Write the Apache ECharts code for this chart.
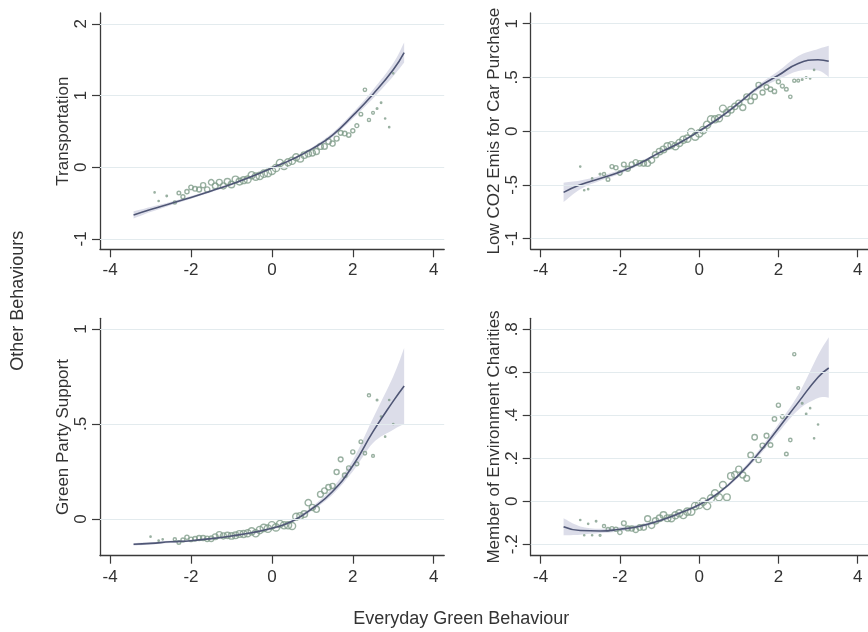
<!DOCTYPE html>
<html>
<head>
<meta charset="utf-8">
<script src="https://cdn.jsdelivr.net/npm/echarts@6/dist/echarts.min.js"></script>
<style>
  html, body { margin: 0; padding: 0; background: #ffffff; }
  #chart { width: 868px; height: 632px; }
</style>
</head>
<body>
<div id="chart"></div>
<script>
// Binned means of each outcome against the everyday green behaviour score
const binX = [-3.0,-2.9,-2.8,-2.7,-2.6,-2.5,-2.4,-2.3,-2.2,-2.1,-2.0,-1.9,-1.8,-1.7,-1.6,-1.5,-1.4,-1.3,-1.2,-1.1,
  -1.0,-0.9,-0.8,-0.7,-0.6,-0.5,-0.4,-0.3,-0.2,-0.1,0.0,0.1,0.2,0.3,0.4,0.5,0.6,0.7,0.8,0.9,
  1.0,1.1,1.2,1.3,1.4,1.5,1.6,1.7,1.8,1.9,2.0,2.1,2.2,2.3,2.4,2.5,2.6,2.7,2.8,2.9,3.0];

// Relative number of respondents in each bin (marker area)
const binWeight = [3,3,3,3,4,6,18,24,28,32,36,40,44,48,52,56,60,64,68,72,
  76,80,84,88,90,92,95,97,98,100,100,98,96,94,92,90,86,82,78,74,
  70,66,62,58,54,50,46,42,38,34,30,27,24,21,18,14,5,4,3,3,3];

const transportY = [null,-0.35,-0.47,null,-0.40,null,-0.49,-0.36,-0.41,-0.34,-0.28,-0.30,-0.31,-0.25,-0.31,-0.21,-0.26,-0.21,-0.26,-0.20,
  -0.24,-0.17,-0.20,-0.18,-0.17,-0.11,-0.13,-0.12,-0.09,-0.08,-0.05,-0.01,0.06,0.02,0.07,0.09,0.14,0.12,0.17,0.19,
  0.20,0.22,0.29,0.29,0.36,0.33,0.40,0.48,0.47,0.45,0.51,0.58,0.74,1.08,0.66,0.76,0.82,0.90,0.68,0.56,1.31];

const carY = [-0.33,-0.55,-0.54,-0.44,null,-0.40,-0.40,-0.45,-0.33,-0.34,-0.39,-0.31,-0.35,-0.31,-0.29,-0.30,-0.30,-0.30,-0.27,-0.22,
  -0.19,-0.17,-0.14,-0.13,-0.14,-0.11,-0.08,-0.07,-0.01,-0.05,-0.02,0.01,0.06,0.11,0.11,0.12,0.21,0.17,0.20,0.23,
  0.26,0.22,0.32,0.28,0.32,0.43,0.36,0.41,0.39,0.37,0.46,0.42,0.39,0.32,0.47,0.47,0.48,0.50,0.49,0.57,null];

const greenPartyY = [-0.093,null,-0.114,-0.107,null,null,-0.107,-0.123,-0.110,-0.096,-0.107,-0.104,-0.100,-0.100,-0.104,-0.104,-0.093,-0.082,-0.089,-0.086,
  -0.089,-0.086,-0.079,-0.079,-0.075,-0.065,-0.075,-0.058,-0.047,-0.051,-0.033,-0.044,-0.026,-0.033,-0.033,-0.037,0.012,0.016,0.026,0.086,
  0.061,0.051,0.130,0.149,0.167,0.174,0.247,0.314,0.230,0.268,0.353,0.290,0.407,0.346,0.651,0.332,0.626,0.539,0.433,0.626,0.500];

const charityY = [-0.087,-0.158,-0.105,-0.158,-0.093,-0.158,-0.115,-0.130,-0.127,-0.130,-0.144,-0.102,-0.126,-0.127,-0.133,-0.122,-0.121,-0.081,-0.112,-0.091,
  -0.079,-0.064,-0.079,-0.079,-0.065,-0.056,-0.064,-0.048,-0.048,-0.022,-0.017,-0.002,-0.022,0.014,0.037,0.019,0.076,0.019,0.118,0.124,
  0.149,0.122,0.107,0.215,0.298,0.192,0.259,0.305,0.262,0.383,0.447,0.394,0.220,0.285,0.684,0.527,0.456,0.406,0.433,0.293,0.357];

// Fitted curves with 95% confidence bounds
const fitX = [-3.42,-3.0,-2.5,-2.0,-1.5,-1.0,-0.5,0.0,0.5,1.0,1.5,2.0,2.5,3.0,3.27];

const transportFit = [-0.665,-0.59,-0.505,-0.42,-0.33,-0.235,-0.13,-0.01,0.11,0.26,0.45,0.72,1.02,1.36,1.60];
const transportLo  = [-0.715,-0.625,-0.53,-0.44,-0.348,-0.251,-0.145,-0.025,0.094,0.24,0.42,0.68,0.96,1.27,1.46];
const transportHi  = [-0.615,-0.555,-0.48,-0.40,-0.312,-0.219,-0.115,0.005,0.126,0.28,0.48,0.76,1.08,1.45,1.74];

const carFit = [-0.57,-0.50,-0.44,-0.38,-0.30,-0.20,-0.11,0.0,0.12,0.26,0.41,0.52,0.63,0.665,0.65];
const carLo  = [-0.66,-0.54,-0.462,-0.398,-0.315,-0.214,-0.123,-0.013,0.106,0.244,0.388,0.48,0.56,0.565,0.505];
const carHi  = [-0.48,-0.46,-0.418,-0.362,-0.285,-0.186,-0.097,0.013,0.134,0.276,0.432,0.56,0.70,0.765,0.795];

const greenPartyFit = [-0.133,-0.128,-0.12,-0.114,-0.103,-0.089,-0.072,-0.049,-0.012,0.056,0.145,0.28,0.46,0.62,0.70];
const greenPartyLo  = [-0.14,-0.134,-0.126,-0.119,-0.108,-0.094,-0.078,-0.056,-0.02,0.045,0.128,0.25,0.40,0.47,0.50];
const greenPartyHi  = [-0.126,-0.122,-0.114,-0.109,-0.098,-0.084,-0.066,-0.042,-0.004,0.067,0.165,0.31,0.53,0.75,0.90];

const charityFit = [-0.118,-0.136,-0.138,-0.13,-0.116,-0.09,-0.056,-0.016,0.04,0.122,0.223,0.34,0.46,0.577,0.62];
const charityLo  = [-0.158,-0.155,-0.148,-0.14,-0.124,-0.097,-0.062,-0.022,0.033,0.113,0.21,0.32,0.425,0.48,0.482];
const charityHi  = [-0.079,-0.117,-0.128,-0.12,-0.108,-0.083,-0.05,-0.01,0.047,0.131,0.236,0.36,0.495,0.68,0.763];

// Tick values and their printed labels
const xTicks = [-4,-2,0,2,4];
const xTickLabels = ['-4','-2','0','2','4'];
const transportTicks = [-1,0,1,2];
const transportTickLabels = ['-1','0','1','2'];
const carTicks = [-1,-0.5,0,0.5,1];
const carTickLabels = ['-1','-.5','0','.5','1'];
const greenPartyTicks = [0,0.5,1];
const greenPartyTickLabels = ['0','.5','1'];
const charityTicks = [-0.2,0,0.2,0.4,0.6,0.8];
const charityTickLabels = ['-.2','0','.2','.4','.6','.8'];

const panelTitles = ['Transportation','Low CO2 Emis for Car Purchase','Green Party Support','Member of Environment Charities'];
const xTitle = 'Everyday Green Behaviour';
const yTitle = 'Other Behaviours';

// ---- drawing ----
const FONT = '"Liberation Sans", Arial, sans-serif';
const TEXT = '#333333';
const AXIS = '#3a3a3a';
const GRID = '#e3ebee';
const MARKER = '#7f9c8a';
const FIT = '#4f5675';
const BAND = 'rgba(205,206,224,0.7)';

const panels = [
  { title: panelTitles[0], y: transportY, fit: transportFit, lo: transportLo, hi: transportHi,
    ticks: transportTicks, labels: transportTickLabels, yMin: -1.144, yMax: 2.152,
    grid: { left: 100, top: 13, width: 344.2, height: 236.3 } },
  { title: panelTitles[1], y: carY, fit: carFit, lo: carLo, hi: carHi,
    ticks: carTicks, labels: carTickLabels, yMin: -1.10, yMax: 1.10,
    grid: { left: 530.7, top: 13, width: 344.2, height: 236.3 } },
  { title: panelTitles[2], y: greenPartyY, fit: greenPartyFit, lo: greenPartyLo, hi: greenPartyHi,
    ticks: greenPartyTicks, labels: greenPartyTickLabels, yMin: -0.193, yMax: 1.056,
    grid: { left: 100, top: 318.3, width: 344.2, height: 237.4 } },
  { title: panelTitles[3], y: charityY, fit: charityFit, lo: charityLo, hi: charityHi,
    ticks: charityTicks, labels: charityTickLabels, yMin: -0.253, yMax: 0.851,
    grid: { left: 530.7, top: 318.3, width: 344.2, height: 237.4 } }
];

function labelFor(ticks, labels) {
  return function (v) {
    for (let i = 0; i < ticks.length; i++) {
      if (Math.abs(ticks[i] - v) < 1e-9) return labels[i];
    }
    return '';
  };
}

function markerSize(w) {
  return 7.4 * Math.sqrt(w / 100);
}

// Catmull-Rom pass through pixel points, emitted as cubic Bezier path commands
function curveThrough(pts, moveFirst) {
  let d = (moveFirst ? 'M' : 'L') + pts[0][0] + ' ' + pts[0][1];
  for (let i = 0; i < pts.length - 1; i++) {
    const p0 = pts[i > 0 ? i - 1 : i], p1 = pts[i], p2 = pts[i + 1], p3 = pts[i + 2 < pts.length ? i + 2 : i + 1];
    const c1x = p1[0] + (p2[0] - p0[0]) / 6, c1y = p1[1] + (p2[1] - p0[1]) / 6;
    const c2x = p2[0] - (p3[0] - p1[0]) / 6, c2y = p2[1] - (p3[1] - p1[1]) / 6;
    d += ' C' + c1x + ' ' + c1y + ' ' + c2x + ' ' + c2y + ' ' + p2[0] + ' ' + p2[1];
  }
  return d;
}

function bandRenderer(p) {
  return function (params, api) {
    const upper = fitX.map((x, i) => api.coord([x, p.hi[i]]));
    const lower = fitX.map((x, i) => api.coord([x, p.lo[i]])).reverse();
    const pathData = curveThrough(upper, true) + ' ' + curveThrough(lower, false) + ' Z';
    return {
      type: 'path',
      shape: { pathData: pathData },
      style: { fill: BAND, stroke: null },
      silent: true
    };
  };
}

const grids = [], xAxes = [], yAxes = [], series = [];

panels.forEach((p, k) => {
  grids.push(Object.assign({ containLabel: false }, p.grid));

  xAxes.push({
    type: 'value', gridIndex: k, min: -4.25, max: 4.26,
    axisLine: { show: true, onZero: false, lineStyle: { color: AXIS, width: 1.3 } },
    axisTick: { show: true, length: 8, customValues: xTicks, lineStyle: { color: AXIS, width: 1.2 } },
    axisLabel: { show: true, customValues: xTicks, margin: 13, color: TEXT, fontSize: 17, fontFamily: FONT,
      formatter: labelFor(xTicks, xTickLabels) },
    splitLine: { show: false }
  });

  yAxes.push({
    type: 'value', gridIndex: k, min: p.yMin, max: p.yMax,
    name: p.title, nameLocation: 'middle', nameGap: 28, nameRotate: 90,
    nameTextStyle: { color: TEXT, fontSize: 17, fontFamily: FONT },
    axisLine: { show: true, onZero: false, lineStyle: { color: AXIS, width: 1.3 } },
    axisTick: { show: true, length: 8, customValues: p.ticks, lineStyle: { color: AXIS, width: 1.2 } },
    axisLabel: { show: true, customValues: p.ticks, rotate: 90, margin: 10, color: TEXT, fontSize: 17, fontFamily: FONT,
      formatter: labelFor(p.ticks, p.labels) },
    splitLine: { show: false }
  });

  // confidence band; also carries the horizontal grid lines
  series.push({
    type: 'custom', xAxisIndex: k, yAxisIndex: k, silent: true, z: 1,
    data: [[fitX[0], p.fit[0]]],
    renderItem: bandRenderer(p),
    markLine: {
      silent: true, symbol: 'none', animation: false,
      label: { show: false },
      lineStyle: { color: GRID, width: 1.2, type: 'solid' },
      emphasis: { disabled: true },
      data: p.ticks.map(v => ({ yAxis: v }))
    }
  });

  // binned means, marker area proportional to bin size
  const pts = [];
  binX.forEach((x, i) => {
    if (p.y[i] !== null) pts.push({ value: [x, p.y[i]], symbolSize: markerSize(binWeight[i]) });
  });
  series.push({
    type: 'scatter', xAxisIndex: k, yAxisIndex: k, symbol: 'circle', silent: true, z: 3,
    data: pts,
    itemStyle: { color: 'rgba(0,0,0,0)', borderColor: MARKER, borderWidth: 1.4 }
  });

  // fitted curve
  series.push({
    type: 'line', xAxisIndex: k, yAxisIndex: k, smooth: true, symbol: 'none', silent: true, z: 4,
    data: fitX.map((x, i) => [x, p.fit[i]]),
    lineStyle: { color: FIT, width: 1.6 }
  });
});

const chart = echarts.init(document.getElementById('chart'), null, { renderer: 'canvas' });
chart.setOption({
  backgroundColor: '#ffffff',
  animation: false,
  grid: grids,
  xAxis: xAxes,
  yAxis: yAxes,
  series: series,
  graphic: [
    { type: 'text', x: 461.3, y: 619, silent: true,
      style: { text: xTitle, fill: TEXT, font: '18px ' + FONT, textAlign: 'center', textVerticalAlign: 'middle' } },
    { type: 'text', x: 18, y: 300.8, rotation: Math.PI / 2, silent: true,
      style: { text: yTitle, fill: TEXT, font: '18px ' + FONT, textAlign: 'center', textVerticalAlign: 'middle' } }
  ]
});
</script>
</body>
</html>
